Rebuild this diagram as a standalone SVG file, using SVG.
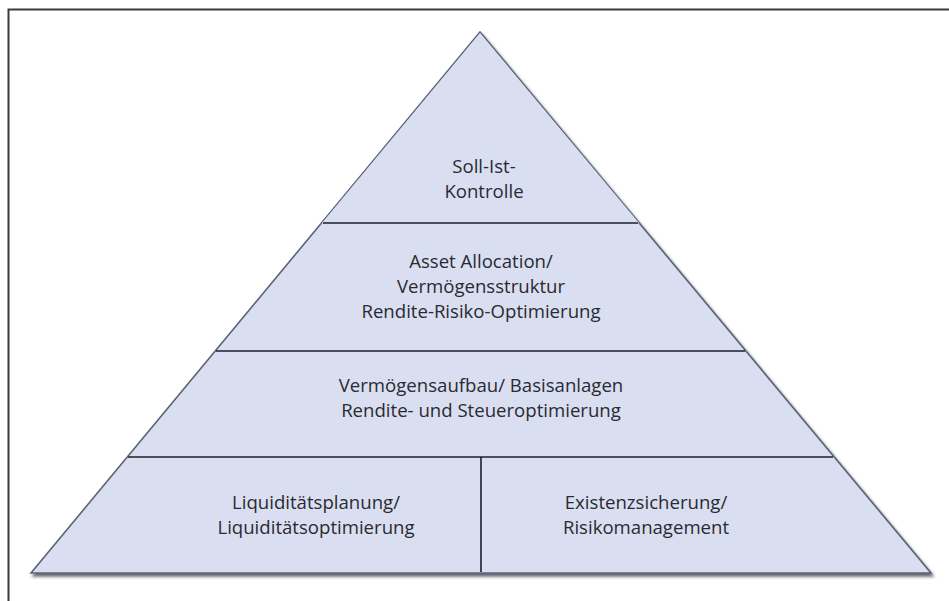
<svg xmlns="http://www.w3.org/2000/svg" width="949" height="601" viewBox="0 0 949 601">
  <defs>
    <filter id="shadow" x="-5%" y="-5%" width="110%" height="110%">
      <feGaussianBlur in="SourceAlpha" stdDeviation="1.6"/>
      <feOffset dx="2" dy="3" result="b"/>
      <feFlood flood-color="#3a4250" flood-opacity="0.8"/>
      <feComposite in2="b" operator="in"/>
      <feMerge><feMergeNode/><feMergeNode in="SourceGraphic"/></feMerge>
    </filter>
  </defs>
  <style>
    .tier { fill: #d9dff0; stroke: none; }
    .divider { stroke: #1a1f2a; stroke-width: 1.6; fill: none; }
    .label { font-family: "Open Sans", Lato, "Liberation Sans", sans-serif; font-size: 18.6px; fill: #2a2a33; text-anchor: middle; }
  </style>
  <rect width="949" height="601" fill="#ffffff"/>
  <!-- frame -->
  <rect x="8.5" y="9.5" width="960" height="620" fill="none" stroke="#3a3a3a" stroke-width="2"/>

  <!-- pyramid body with shadow -->
  <polygon points="480,32 931,573 31,573" fill="#d9dff0" stroke="#5c6474" stroke-width="1.6" stroke-linejoin="miter" filter="url(#shadow)"/>

  <g id="tier-soll-ist">
    <polygon class="tier" points="480,33 639,223 322,223"/>
    <text class="label" x="484" y="173">Soll-Ist-</text>
    <text class="label" x="484" y="198">Kontrolle</text>
  </g>
  <g id="tier-asset-allocation">
    <text class="label" x="481" y="268">Asset Allocation/</text>
    <text class="label" x="481" y="293">Vermögensstruktur</text>
    <text class="label" x="481" y="318">Rendite-Risiko-Optimierung</text>
  </g>
  <g id="tier-vermoegensaufbau">
    <text class="label" x="481" y="392">Vermögensaufbau/ Basisanlagen</text>
    <text class="label" x="481" y="417">Rendite- und Steueroptimierung</text>
  </g>
  <g id="tier-liquiditaet">
    <text class="label" x="316" y="509">Liquiditätsplanung/</text>
    <text class="label" x="316" y="534">Liquiditätsoptimierung</text>
  </g>
  <g id="tier-existenzsicherung">
    <text class="label" x="646" y="509">Existenzsicherung/</text>
    <text class="label" x="646" y="534">Risikomanagement</text>
  </g>

  <!-- tier dividers -->
  <g id="connectors">
    <line class="divider" x1="323" y1="223" x2="638" y2="223"/>
    <line class="divider" x1="216" y1="351" x2="745" y2="351"/>
    <line class="divider" x1="128" y1="457" x2="833" y2="457"/>
    <line class="divider" x1="481" y1="457" x2="481" y2="572"/>
  </g>
</svg>
